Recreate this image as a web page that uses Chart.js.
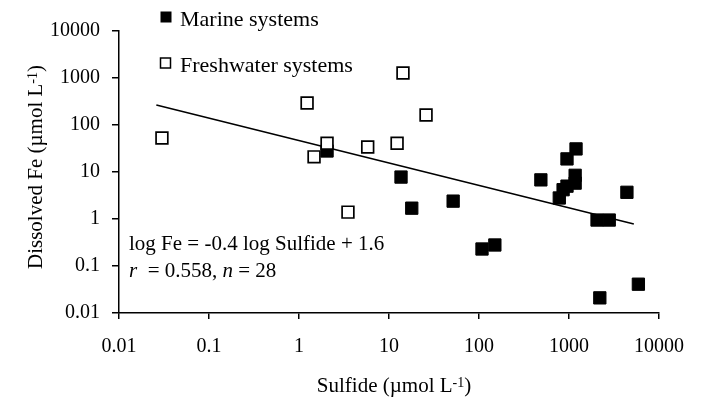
<!DOCTYPE html>
<html>
<head>
<meta charset="utf-8">
<script src="https://cdn.jsdelivr.net/npm/chart.js@4.4.1/dist/chart.umd.min.js"></script>
<style>
  html, body { margin: 0; padding: 0; background: #fff; }
  #chart { display: block; }
</style>
</head>
<body>
<canvas id="chart" width="705" height="398"></canvas>
<script>
// ---- data ----
const freshSulfide = [0.030, 1.23, 2.05, 1.47, 5.8, 12.3, 3.5, 14.3, 25.8];
const freshFe = [53, 294, 41, 21, 34, 41, 1.4, 1276, 163];

const marineSulfide = [2.05, 13.6, 17.9, 51.6, 108, 150, 487, 1197, 950, 1170, 1170, 950, 860, 780, 2050, 2800, 4400, 2200, 5900];
const marineFe = [28, 7.8, 1.7, 2.4, 0.23, 0.28, 6.8, 31, 19, 8.5, 5.8, 5.0, 4.2, 2.8, 0.95, 0.95, 3.7, 0.021, 0.041];

// regression line end points
const fitSulfide = [0.026, 5250];
const fitFe = [267, 0.78];

const xTickValues = [0.01, 0.1, 1, 10, 100, 1000, 10000];
const xTickLabels = ["0.01", "0.1", "1", "10", "100", "1000", "10000"];
const yTickValues = [0.01, 0.1, 1, 10, 100, 1000, 10000];
const yTickLabels = ["0.01", "0.1", "1", "10", "100", "1000", "10000"];

const SERIF = '"Liberation Serif", "Times New Roman", serif';
const BLACK = "#000";

const toPoints = (xs, ys) => xs.map((x, i) => ({ x, y: ys[i] }));

// draw a run of text pieces (for superscripts / italics)
function drawRuns(ctx, runs, x, y) {
  let cx = x;
  for (const r of runs) {
    ctx.font = r.font;
    ctx.fillText(r.text, cx, y + (r.dy || 0));
    cx += ctx.measureText(r.text).width;
  }
}
function runsWidth(ctx, runs) {
  let w = 0;
  for (const r of runs) {
    ctx.font = r.font;
    w += ctx.measureText(r.text).width;
  }
  return w;
}

const F21 = `21px ${SERIF}`;
const F22 = `22px ${SERIF}`;
const F21I = `italic 21px ${SERIF}`;
const SUP = `14px ${SERIF}`;

const unitRuns = (label) => [
  { text: label + " (\u00b5mol L", font: F21 },
  { text: "-1", font: SUP, dy: -5 },
  { text: ")", font: F21 }
];

const decorations = {
  id: "decorations",
  afterDraw(chart) {
    const ctx = chart.ctx;
    ctx.save();
    ctx.fillStyle = BLACK;
    ctx.strokeStyle = BLACK;
    ctx.textAlign = "left";
    ctx.textBaseline = "alphabetic";

    // legend
    ctx.fillRect(160.5, 11.5, 11, 11);
    ctx.lineWidth = 1.5;
    ctx.strokeRect(160.5, 58, 10, 10);
    ctx.font = F22;
    ctx.fillText("Marine systems", 180, 26);
    ctx.fillText("Freshwater systems", 180, 72);

    // regression text
    ctx.font = F21;
    ctx.fillText("log Fe = -0.4 log Sulfide + 1.6", 129, 250);
    drawRuns(ctx, [
      { text: "r", font: F21I },
      { text: "  = 0.558, ", font: F21 },
      { text: "n", font: F21I },
      { text: " = 28", font: F21 }
    ], 129, 277);

    // x title
    const xr = unitRuns("Sulfide");
    drawRuns(ctx, xr, 394 - runsWidth(ctx, xr) / 2, 392);

    // y title
    const yr = unitRuns("Dissolved Fe");
    const yw = runsWidth(ctx, yr);
    ctx.translate(42, 167);
    ctx.rotate(-Math.PI / 2);
    drawRuns(ctx, yr, -yw / 2, 0);
    ctx.restore();
  }
};

const tickFont = { family: SERIF, size: 20 };

new Chart(document.getElementById("chart"), {
  type: "scatter",
  data: {
    datasets: [
      {
        label: "Marine systems",
        data: toPoints(marineSulfide, marineFe),
        pointStyle: "rect",
        pointRadius: 8.7,
        backgroundColor: BLACK,
        borderColor: BLACK,
        borderWidth: 1,
        order: 2
      },
      {
        label: "Freshwater systems",
        data: toPoints(freshSulfide, freshFe),
        pointStyle: "rect",
        pointRadius: 8.3,
        backgroundColor: "#fff",
        borderColor: BLACK,
        borderWidth: 1.7,
        order: 1
      },
      {
        type: "line",
        label: "fit",
        data: toPoints(fitSulfide, fitFe),
        borderColor: BLACK,
        borderWidth: 1.6,
        pointRadius: 0,
        fill: false,
        order: 3
      }
    ]
  },
  options: {
    responsive: false,
    animation: false,
    layout: { padding: { top: 31, right: 46, left: 0, bottom: 0 } },
    plugins: { legend: { display: false }, tooltip: { enabled: false } },
    scales: {
      x: {
        type: "logarithmic",
        position: "bottom",
        min: 0.01,
        max: 10000,
        afterBuildTicks: s => { s.ticks = xTickValues.map(v => ({ value: v })); },
        afterFit: s => { s.height = 85; },
        ticks: {
          callback: (v, i) => xTickLabels[i],
          font: tickFont,
          color: BLACK,
          padding: 16,
          maxRotation: 0,
          autoSkip: false
        },
        grid: { display: true, drawOnChartArea: false, drawTicks: true, tickLength: 6, color: BLACK, lineWidth: 1.5 },
        border: { display: true, color: BLACK, width: 1.5 }
      },
      y: {
        type: "logarithmic",
        position: "left",
        min: 0.01,
        max: 10000,
        afterBuildTicks: s => { s.ticks = yTickValues.map(v => ({ value: v })); },
        afterFit: s => { s.width = 119; },
        ticks: {
          callback: (v, i) => yTickLabels[i],
          font: tickFont,
          color: BLACK,
          padding: 12,
          autoSkip: false
        },
        grid: { display: true, drawOnChartArea: false, drawTicks: true, tickLength: 7, color: BLACK, lineWidth: 1.5 },
        border: { display: true, color: BLACK, width: 1.5 }
      }
    }
  },
  plugins: [decorations]
});
</script>
</body>
</html>
